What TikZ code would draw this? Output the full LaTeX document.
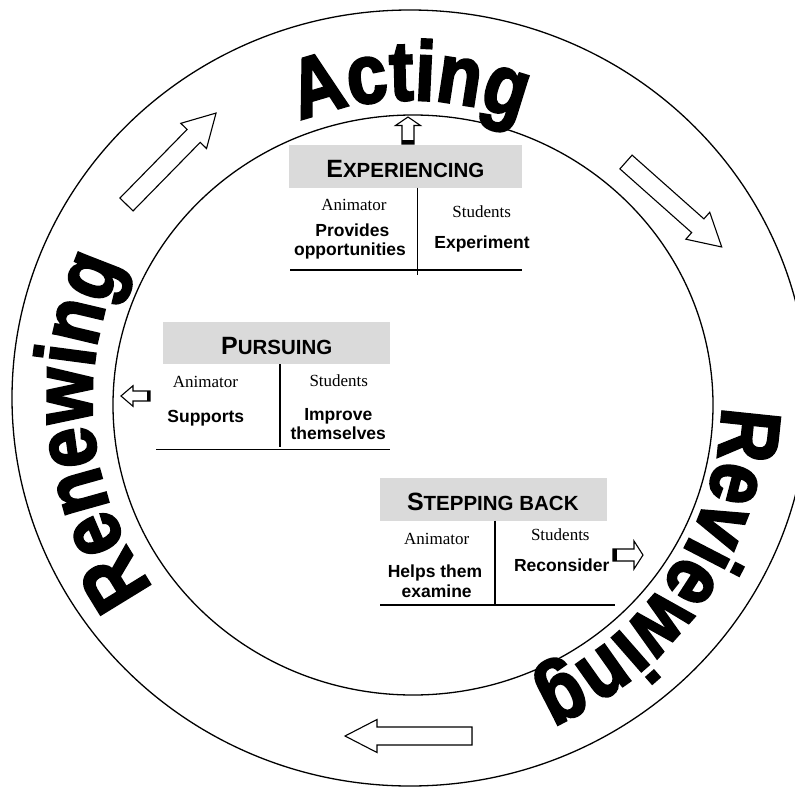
\documentclass[tikz,border=0pt]{standalone}
\usepackage{fontspec}
\usepackage{graphicx}
\setmainfont{Liberation Serif}
\newfontfamily\arial{Liberation Sans}
\newfontfamily\heavyfont[BoldFeatures={FakeBold=3}]{Liberation Sans}
\definecolor{boxgray}{RGB}{218,218,218}
\newcommand\bigfont{\heavyfont\bfseries\fontsize{84}{84}\selectfont}
\newcommand\sctitle[2]{{\fontsize{25}{25}\selectfont #1}{\fontsize{20.5}{20.5}\selectfont #2}}
% Arial bold advance widths (em)
\expandafter\def\csname cwA\endcsname{0.722}
\expandafter\def\csname cwc\endcsname{0.556}
\expandafter\def\csname cwt\endcsname{0.333}
\expandafter\def\csname cwi\endcsname{0.278}
\expandafter\def\csname cwn\endcsname{0.611}
\expandafter\def\csname cwg\endcsname{0.611}
\expandafter\def\csname cwR\endcsname{0.722}
\expandafter\def\csname cwe\endcsname{0.556}
\expandafter\def\csname cww\endcsname{0.778}
\expandafter\def\csname cwv\endcsname{0.556}
% \arcword{name}{centre angle}{radius}{xscale}{letters}
\newcommand\arcword[5]{%
  \gdef\totw{0}%
  \foreach \ch in {#5}{%
    \pgfmathsetmacro\tmpw{\totw+#4*84*\csname cw\ch\endcsname}%
    \global\let\totw\tmpw}%
  \gdef\runw{0}%
  \foreach \ch [count=\ci] in {#5}{%
    \pgfmathsetmacro\midw{\runw+#4*84*\csname cw\ch\endcsname/2}%
    \pgfmathsetmacro\chang{#2+(\totw/2-\midw)/#3*180/pi}%
    \node[anchor=base, rotate=\chang-90, inner sep=0pt] (#1\ci)
      at ({410+#3*cos(\chang)},{400-#3*sin(\chang)}) {\scalebox{#4}[1]{\bigfont\ch}};%
    \pgfmathsetmacro\tmpw{\runw+#4*84*\csname cw\ch\endcsname}%
    \global\let\runw\tmpw}%
}
% \hollowarrow{x}{y}{angle}{length}{head length}{shaft half}{head half}{band}
\newcommand\hollowarrow[8]{%
  \begin{scope}[shift={(#1,#2)}, rotate=#3]
    \draw[arrowline] (0,-#6) -- ({#4-#5},-#6) -- ({#4-#5},-#7) -- (#4,0)
      -- ({#4-#5},#7) -- ({#4-#5},#6) -- (0,#6) -- cycle;
    \fill (0,-#6) rectangle (#8,#6);
  \end{scope}}
\tikzset{
  lbl/.style={anchor=base, inner sep=0pt, font=\fontsize{17}{19.5}\selectfont},
  bld/.style={anchor=base, inner sep=0pt, font=\arial\bfseries\fontsize{17.5}{19.5}\selectfont},
  ttl/.style={anchor=base, inner sep=0pt, font=\arial\bfseries},
  ring/.style={line width=1.3pt},
  arrowline/.style={draw, line width=1.1pt, fill=white, line join=miter},
  tabline/.style={line width=1.4pt},
  graybox/.style={fill=boxgray, draw=none},
}
\begin{document}
\begin{tikzpicture}[x=1pt,y=-1pt]
\useasboundingbox (0,0) rectangle (795,787);
\clip (0,0) rectangle (795,787);
% rings
\draw[ring] (410,398) ellipse [x radius=398, y radius=388];
\draw[ring] (413,405) ellipse [x radius=300, y radius=290];
% curved words
\arcword{act}{90}{300}{0.86}{A,c,t,i,n,g}
\arcword{ren}{185.5}{318}{0.86}{R,e,n,e,w,i,n,g}
\arcword{rev}{-34}{312}{0.86}{R,e,v,i,e,w,i,n,g}
% big hollow arrows on the ring
\hollowarrow{126.5}{204.5}{45.6}{128}{32}{9.2}{18}{0}
\hollowarrow{626}{162}{-41.6}{128}{32}{9.2}{18}{0}
\hollowarrow{472}{736}{180}{127}{32}{9}{16.5}{0}
% small arrows
\hollowarrow{408}{144}{90}{27}{8.5}{6}{12.5}{4}
\hollowarrow{150}{396}{180}{29}{12}{5}{10.3}{3}
\hollowarrow{613}{555}{0}{30}{9}{6}{14}{4}
% Experiencing
\fill[graybox] (289,145) rectangle (522.3,187.5);
\draw[tabline] (417.7,187.5) -- (417.7,275);
\draw[tabline] (290,270) -- (522,270);
\node[ttl] (exptitle) at (405.3,177) {\sctitle{E}{XPERIENCING}};
\node[lbl] (expanim) at (354,210) {Animator};
\node[lbl] (expstud) at (481.7,217) {Students};
\node[bld] (expprov1) at (352.3,236) {Provides};
\node[bld] (expprov2) at (350,255) {opportunities};
\node[bld] (expexp) at (482,248) {Experiment};
% Pursuing
\fill[graybox] (163.3,322.3) rectangle (390,364.3);
\draw[tabline] (280,364.3) -- (280,447);
\draw[tabline] (156,449.3) -- (390,449.3);
\node[ttl] (purtitle) at (276.7,354) {\sctitle{P}{URSUING}};
\node[lbl] (puranim) at (205.5,387.7) {Animator};
\node[lbl] (purstud) at (338.8,386) {Students};
\node[bld] (pursup) at (205.8,422.7) {Supports};
\node[bld] (purimp1) at (338.3,420.7) {Improve};
\node[bld] (purimp2) at (338.3,439.3) {themselves};
% Stepping back
\fill[graybox] (380,478.3) rectangle (607.3,520.7);
\draw[tabline] (495,520.7) -- (495,605);
\draw[tabline] (380,605) -- (615,605);
\node[ttl] (sbtitle) at (492.8,510) {\sctitle{S}{TEPPING BACK}};
\node[lbl] (sbanim) at (436.7,544) {Animator};
\node[lbl] (sbstud) at (560.3,540.7) {Students};
\node[bld] (sbhelp1) at (435,577.3) {Helps them};
\node[bld] (sbhelp2) at (436.7,597.3) {examine};
\node[bld] (sbrec) at (561.7,571.7) {Reconsider};
\end{tikzpicture}
\end{document}
